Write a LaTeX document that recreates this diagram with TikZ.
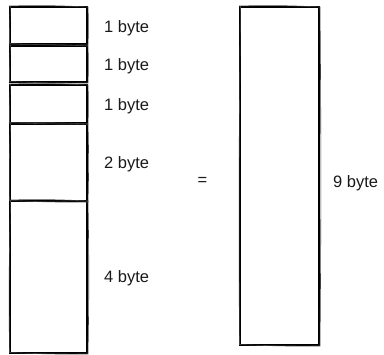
\documentclass[tikz,border=0pt]{standalone}
\usepackage{fontspec}
\setmainfont{Liberation Sans}
\begin{document}
\begin{tikzpicture}[x=1pt,y=-1pt,
  box/.style={draw=black, line width=1.1pt, inner sep=0pt, outer sep=0pt, rectangle},
  sk/.style={draw=black!75, line width=0.6pt},
  lbl/.style={font=\fontsize{16.5}{18}\selectfont, inner sep=0pt, anchor=base west, text=black!90}]
\useasboundingbox (0,0) rectangle (384,355);
% left stack
\node[box, minimum width=77pt, minimum height=37pt] (b1) at (48.5,25.5) {};
\node[box, minimum width=77pt, minimum height=36pt] (b2) at (48.5,64) {};
\node[box, minimum width=77pt, minimum height=38pt] (b3) at (48.5,104) {};
\node[box, minimum width=77pt, minimum height=77pt] (b4) at (48.5,162.5) {};
\node[box, minimum width=77pt, minimum height=152pt] (b5) at (48.5,277) {};
% right box
\node[box, minimum width=79pt, minimum height=338pt] (r) at (279.5,176) {};
% sketchy overlays
\foreach \n/\b in {b1/2,b2/2,b3/2,b4/1.5,b5/1,r/0.5}{
  \draw[sk] ([xshift=-1pt,yshift=1pt]\n.north west) to[bend left=2] ([xshift=1pt]\n.north east)
            to[bend left=\b] ([xshift=1pt,yshift=-1pt]\n.south east)
            to[bend left=1.5] ([xshift=-0.5pt,yshift=0.5pt]\n.south west)
            to[bend left=\b] ([xshift=0.5pt,yshift=1pt]\n.north west);
}
% labels
\node[lbl] (l1) at (104,33) {1 byte};
\node[lbl] (l2) at (104,71) {1 byte};
\node[lbl] (l3) at (104,110.5) {1 byte};
\node[lbl] (l4) at (104,168.5) {2 byte};
\node[lbl] (l5) at (104,283) {4 byte};
\node[lbl, anchor=center] (eq) at (202.5,181) {=};
\node[lbl] (l9) at (333,188) {9 byte};
\end{tikzpicture}
\end{document}
